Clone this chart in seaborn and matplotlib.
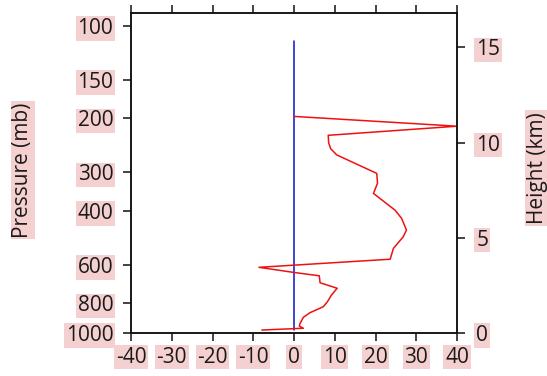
import numpy as np
import pandas as pd
import matplotlib
matplotlib.use("Agg")
import matplotlib.pyplot as plt
import seaborn as sns

# ---- data ----
red_x = [0.0, 40.0, 8.4, 8.5, 9.0, 10.5, 20.3, 20.5, 19.5, 24.8, 26.4, 27.6, 26.8, 24.4, 23.6,
         -8.6, 0.0, 6.2, 6.4, 10.6, 9.2, 8.2, 7.2, 3.9, 2.3, 1.5, 1.3, 2.3, -7.9]
red_p = [197, 212, 227, 240, 251, 263, 302, 325, 351, 398, 423, 462, 486, 530, 575,
         611, 635, 651, 686, 715, 752, 791, 821, 859, 889, 930, 949, 965, 978]
blue_x = [0.0, 0.0]
blue_p = [980, 112]

x_ticks = [-40, -30, -20, -10, 0, 10, 20, 30, 40]
p_ticks = [100, 150, 200, 300, 400, 600, 800, 1000]
h_ticks = [0, 5, 10, 15]

pink = "#f5d0d0"
txt = "#1a1a1a"
fs = 15

sns.set_theme(style="white")
plt.rcParams["font.family"] = ["Open Sans", "DejaVu Sans"]

fig = plt.figure(figsize=(5.47, 3.76), dpi=100)
ax = fig.add_axes([131 / 547, 43 / 376, (457 - 131) / 547, (333 - 13) / 376])

df_red = pd.DataFrame({"x": red_x, "p": red_p})
df_blue = pd.DataFrame({"x": blue_x, "p": blue_p})
sns.lineplot(data=df_blue, x="x", y="p", sort=False, estimator=None, color="#1010d0", lw=1.1, ax=ax)
sns.lineplot(data=df_red, x="x", y="p", sort=False, estimator=None, color="#ee1111", lw=1.1, ax=ax)

ax.set_yscale("log")
ax.set_ylim(1000, 90.7)
ax.set_xlim(-40, 40)
ax.set_xticks(x_ticks)
ax.set_xticklabels([str(v) for v in x_ticks])
ax.set_yticks(p_ticks)
ax.set_yticklabels([str(v) for v in p_ticks])
ax.yaxis.set_minor_locator(matplotlib.ticker.NullLocator())
ax.set_xlabel("")
ax.set_ylabel("")

for s in ax.spines.values():
    s.set_color("#111111")
    s.set_linewidth(1.1)

ax.tick_params(axis="both", which="major", direction="out", length=5.8, width=1.1,
               color="#111111", labelsize=fs, labelcolor=txt)
ax.tick_params(axis="x", top=True, bottom=True, labeltop=False, pad=4)
ax.tick_params(axis="y", left=True, right=False, pad=7)

ax2 = ax.twinx()
ax2.set_ylim(0, 16.8)
ax2.set_yticks(h_ticks)
ax2.set_yticklabels([str(v) for v in h_ticks])
ax2.tick_params(axis="y", direction="out", length=5.8, width=1.1, color="#111111",
                labelsize=fs, labelcolor=txt, pad=8)
for s in ax2.spines.values():
    s.set_color("#111111")
    s.set_linewidth(1.1)

box = dict(facecolor=pink, edgecolor="none", pad=1.2)
for lbl in ax.get_xticklabels() + ax.get_yticklabels() + ax2.get_yticklabels():
    lbl.set_bbox(box)

fig.text(23 / 547, 1 - 170 / 376, "Pressure (mb)", rotation=90, ha="center", va="center",
         fontsize=fs, color=txt, bbox=box)
fig.text(537 / 547, 1 - 168 / 376, "Height (km)", rotation=90, ha="center", va="center",
         fontsize=fs, color=txt, bbox=box)

fig.savefig("out.png", dpi=100, facecolor="white")
